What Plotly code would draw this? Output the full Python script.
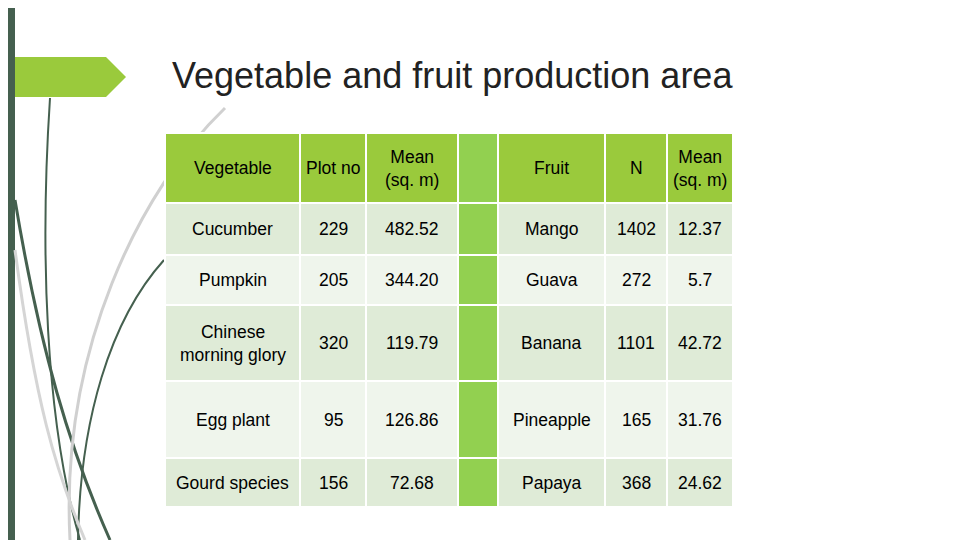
import plotly.graph_objects as go

# table contents
header = ["Vegetable", "Plot no", "Mean<br>(sq. m)", "", "Fruit", "N", "Mean<br>(sq. m)"]
vegetables = ["Cucumber", "Pumpkin", "Chinese<br>morning glory", "Egg plant", "Gourd species"]
plot_no = ["229", "205", "320", "95", "156"]
veg_mean = ["482.52", "344.20", "119.79", "126.86", "72.68"]
fruits = ["Mango", "Guava", "Banana", "Pineapple", "Papaya"]
fruit_n = ["1402", "272", "1101", "165", "368"]
fruit_mean = ["12.37", "5.7", "42.72", "31.76", "24.62"]

# grid layout (pixels)
col_edges = [165, 300, 366, 458, 498, 605, 667, 733]
row_edges = [133, 203, 255, 305, 381, 458, 507]

fig = go.Figure()
shapes = []
annotations = []

# left dark band and arrow banner
shapes.append(dict(type="rect", x0=0, x1=15, y0=0, y1=560, fillcolor="#45604F", line_width=0, layer="below"))
shapes.append(dict(type="path", path="M 15 57 L 106 57 L 126 77 L 106 97 L 15 97 Z",
                   fillcolor="#9ACA3C", line_width=0))
# decorative curves
curves = [
    ("M 50 98 C 40 250, 45 420, 80 540", "#45604F", 2),
    ("M 15 200 C 40 350, 70 450, 110 540", "#45604F", 3),
    ("M 164 260 C 110 320, 80 420, 78 540", "#45604F", 2),
    ("M 225 108 C 140 190, 60 350, 70 540", "#D0D0D0", 3),
    ("M 15 250 C 35 400, 55 470, 85 540", "#D5D5D5", 3),
]
for p, c, w in curves:
    shapes.append(dict(type="path", path=p, line=dict(color=c, width=w), layer="below"))

columns = [vegetables, plot_no, veg_mean, [""] * 5, fruits, fruit_n, fruit_mean]
for ci in range(7):
    for ri in range(6):
        x0, x1 = col_edges[ci], col_edges[ci + 1]
        y0, y1 = row_edges[ri], row_edges[ri + 1]
        if ci == 3:
            color = "#92D050"
        elif ri == 0:
            color = "#9ACA3C"
        elif ri % 2 == 1:
            color = "#DFEBD7"
        else:
            color = "#EFF5EC"
        shapes.append(dict(type="rect", x0=x0, x1=x1, y0=y0, y1=y1, fillcolor=color,
                           line=dict(color="white", width=2)))
        text = header[ci] if ri == 0 else columns[ci][ri - 1]
        if text:
            annotations.append(dict(x=(x0 + x1) / 2, y=(y0 + y1) / 2, text=text, showarrow=False,
                                    font=dict(family="Liberation Sans, Arial", size=17.5, color="black")))

annotations.append(dict(x=170, y=75, xanchor="left", text="Vegetable and fruit production area",
                        showarrow=False, font=dict(family="Liberation Sans, Arial", size=36, color="#222222")))

fig.update_layout(
    width=960, height=540, margin=dict(l=0, r=0, t=0, b=0),
    paper_bgcolor="white", plot_bgcolor="white",
    xaxis=dict(range=[8, 968], visible=False, fixedrange=True),
    yaxis=dict(range=[548, 8], visible=False, fixedrange=True),
    shapes=shapes, annotations=annotations, showlegend=False,
)
fig.write_html("out.html")
